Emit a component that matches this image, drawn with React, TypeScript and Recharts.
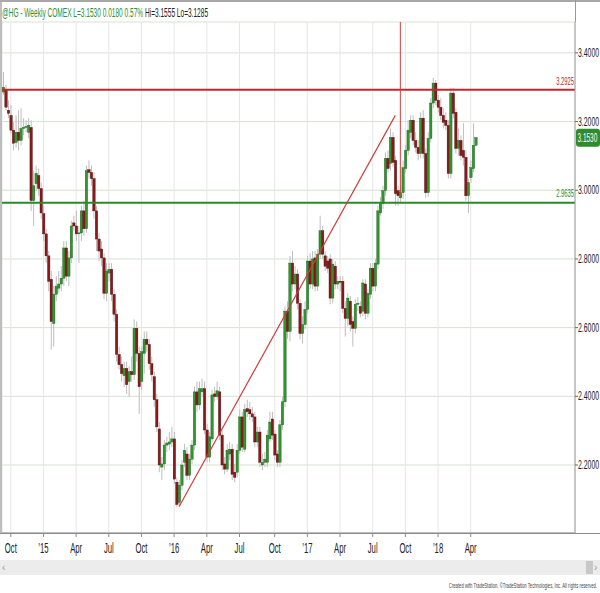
import { ComposedChart, Bar, XAxis, YAxis, CartesianGrid, ReferenceLine } from 'recharts';

// weekly HG candles (oldest first)
const opens = [
  3.286, 3.292, 3.233, 3.218, 3.175, 3.139, 3.169, 3.145, 3.18, 3.183, 3.169, 3.183, 2.97, 3.019, 3.043, 3.005, 2.932, 2.873, 2.809, 2.741,
  2.612, 2.697, 2.715, 2.727, 2.744, 2.832, 2.75, 2.803, 2.905, 2.896, 2.873, 2.876, 2.94, 2.888, 3.06, 3.052, 3.034, 2.94, 2.858, 2.829,
  2.803, 2.7, 2.759, 2.77, 2.697, 2.639, 2.522, 2.492, 2.46, 2.481, 2.443, 2.472, 2.463, 2.598, 2.525, 2.443, 2.525, 2.566, 2.551, 2.495,
  2.457, 2.39, 2.305, 2.194, 2.203, 2.258, 2.261, 2.267, 2.276, 2.15, 2.091, 2.141, 2.208, 2.232, 2.17, 2.217, 2.258, 2.413, 2.375, 2.413,
  2.422, 2.302, 2.223, 2.276, 2.407, 2.399, 2.413, 2.287, 2.203, 2.188, 2.232, 2.246, 2.179, 2.179, 2.243, 2.34, 2.246, 2.364, 2.361, 2.349,
  2.34, 2.267, 2.296, 2.2, 2.208, 2.208, 2.276, 2.334, 2.29, 2.232, 2.208, 2.317, 2.384, 2.648, 2.589, 2.788, 2.727, 2.756, 2.671, 2.583,
  2.609, 2.653, 2.794, 2.727, 2.803, 2.721, 2.814, 2.882, 2.809, 2.794, 2.8, 2.686, 2.779, 2.727, 2.735, 2.735, 2.656, 2.627, 2.677, 2.618,
  2.598, 2.668, 2.662, 2.648, 2.727, 2.642, 2.697, 2.773, 2.721, 2.785, 2.934, 2.961, 2.999, 3.093, 3.078, 3.154, 3.087, 2.999, 2.978, 2.993,
  3.063, 3.116, 3.169, 3.204, 3.145, 3.125, 3.107, 3.21, 3.107, 2.993, 3.151, 3.254, 3.312, 3.262, 3.242, 3.218, 3.204, 3.189, 3.049, 3.283,
  3.227, 3.122, 3.145, 3.116, 3.096, 2.984, 3.037, 3.063, 3.131,
];
const highs = [
  3.344, 3.306, 3.262, 3.248, 3.198, 3.218, 3.233, 3.239, 3.21, 3.204, 3.21, 3.204, 3.057, 3.072, 3.063, 3.022, 2.955, 2.888, 2.823, 2.765,
  2.721, 2.75, 2.765, 2.779, 2.852, 2.852, 2.823, 2.911, 2.926, 2.94, 2.896, 2.955, 2.97, 3.072, 3.087, 3.072, 3.052, 2.955, 2.876, 2.852,
  2.817, 2.788, 2.788, 2.788, 2.712, 2.653, 2.545, 2.516, 2.501, 2.501, 2.487, 2.516, 2.624, 2.618, 2.545, 2.545, 2.589, 2.589, 2.566, 2.516,
  2.472, 2.407, 2.325, 2.223, 2.273, 2.282, 2.296, 2.311, 2.296, 2.164, 2.156, 2.214, 2.261, 2.252, 2.232, 2.273, 2.428, 2.443, 2.443, 2.451,
  2.443, 2.32, 2.296, 2.419, 2.428, 2.443, 2.428, 2.302, 2.223, 2.261, 2.267, 2.261, 2.203, 2.261, 2.361, 2.355, 2.378, 2.39, 2.384, 2.369,
  2.355, 2.311, 2.311, 2.232, 2.238, 2.302, 2.355, 2.355, 2.302, 2.243, 2.331, 2.399, 2.662, 2.677, 2.809, 2.823, 2.779, 2.77, 2.683, 2.633,
  2.677, 2.809, 2.817, 2.823, 2.823, 2.829, 2.926, 2.896, 2.823, 2.809, 2.814, 2.8, 2.794, 2.75, 2.75, 2.75, 2.677, 2.7, 2.692, 2.633,
  2.683, 2.689, 2.677, 2.741, 2.741, 2.712, 2.788, 2.788, 2.8, 2.955, 2.981, 3.013, 3.11, 3.116, 3.18, 3.169, 3.101, 3.013, 3.013, 3.087,
  3.131, 3.204, 3.218, 3.218, 3.169, 3.145, 3.227, 3.233, 3.122, 3.169, 3.268, 3.327, 3.321, 3.277, 3.268, 3.239, 3.227, 3.204, 3.298, 3.298,
  3.239, 3.18, 3.16, 3.195, 3.116, 3.034, 3.087, 3.195, 3.156,
];
const lows = [
  3.277, 3.233, 3.21, 3.166, 3.116, 3.125, 3.116, 3.131, 3.16, 3.169, 3.151, 2.94, 2.896, 2.999, 2.984, 2.917, 2.852, 2.788, 2.706, 2.536,
  2.545, 2.677, 2.7, 2.706, 2.721, 2.735, 2.721, 2.788, 2.882, 2.852, 2.788, 2.852, 2.867, 2.876, 3.034, 3.013, 2.917, 2.823, 2.794, 2.779,
  2.683, 2.677, 2.735, 2.677, 2.618, 2.501, 2.478, 2.443, 2.428, 2.407, 2.399, 2.443, 2.448, 2.501, 2.349, 2.419, 2.466, 2.53, 2.478, 2.443,
  2.369, 2.296, 2.179, 2.156, 2.185, 2.238, 2.243, 2.252, 2.144, 2.077, 2.077, 2.126, 2.194, 2.156, 2.156, 2.203, 2.243, 2.355, 2.361, 2.399,
  2.29, 2.208, 2.208, 2.267, 2.384, 2.39, 2.273, 2.185, 2.173, 2.179, 2.214, 2.156, 2.15, 2.164, 2.232, 2.238, 2.238, 2.34, 2.331, 2.325,
  2.252, 2.252, 2.194, 2.185, 2.194, 2.194, 2.267, 2.273, 2.214, 2.194, 2.194, 2.302, 2.369, 2.568, 2.56, 2.706, 2.712, 2.653, 2.566, 2.554,
  2.595, 2.642, 2.712, 2.712, 2.706, 2.706, 2.8, 2.8, 2.765, 2.759, 2.668, 2.671, 2.712, 2.712, 2.706, 2.642, 2.574, 2.604, 2.589, 2.545,
  2.583, 2.648, 2.63, 2.633, 2.624, 2.63, 2.683, 2.706, 2.706, 2.77, 2.926, 2.946, 2.984, 3.052, 3.057, 3.069, 2.955, 2.955, 2.964, 2.975,
  3.052, 3.101, 3.151, 3.131, 3.11, 3.087, 3.093, 3.093, 2.978, 2.981, 3.139, 3.239, 3.248, 3.227, 3.204, 3.18, 3.175, 3.034, 3.034, 3.21,
  3.107, 3.101, 3.087, 3.072, 2.97, 2.934, 3.022, 3.052, 3.129,
];
const closes = [
  3.3, 3.242, 3.224, 3.175, 3.137, 3.169, 3.145, 3.18, 3.183, 3.186, 3.189, 2.97, 3.013, 3.049, 3.005, 2.934, 2.873, 2.809, 2.735, 2.618,
  2.697, 2.721, 2.727, 2.744, 2.832, 2.75, 2.803, 2.896, 2.896, 2.873, 2.876, 2.94, 2.888, 3.057, 3.052, 3.034, 2.94, 2.858, 2.823, 2.803,
  2.7, 2.765, 2.77, 2.697, 2.639, 2.522, 2.492, 2.466, 2.481, 2.434, 2.472, 2.463, 2.598, 2.525, 2.428, 2.53, 2.566, 2.551, 2.495, 2.463,
  2.39, 2.311, 2.2, 2.203, 2.258, 2.264, 2.267, 2.276, 2.159, 2.085, 2.141, 2.2, 2.243, 2.17, 2.217, 2.258, 2.413, 2.375, 2.422, 2.422,
  2.302, 2.223, 2.282, 2.404, 2.399, 2.416, 2.287, 2.2, 2.188, 2.243, 2.246, 2.173, 2.164, 2.243, 2.34, 2.252, 2.361, 2.355, 2.349, 2.34,
  2.267, 2.296, 2.208, 2.208, 2.217, 2.287, 2.325, 2.287, 2.229, 2.208, 2.317, 2.384, 2.648, 2.589, 2.788, 2.727, 2.756, 2.671, 2.583, 2.609,
  2.653, 2.794, 2.727, 2.8, 2.721, 2.814, 2.882, 2.814, 2.779, 2.773, 2.686, 2.785, 2.727, 2.735, 2.732, 2.656, 2.627, 2.686, 2.609, 2.598,
  2.668, 2.671, 2.642, 2.73, 2.642, 2.7, 2.773, 2.721, 2.788, 2.94, 2.961, 2.999, 3.093, 3.063, 3.154, 3.081, 2.99, 2.984, 2.993, 3.066,
  3.116, 3.175, 3.204, 3.145, 3.125, 3.107, 3.21, 3.107, 2.993, 3.151, 3.254, 3.312, 3.262, 3.242, 3.218, 3.198, 3.189, 3.049, 3.283, 3.224,
  3.122, 3.145, 3.101, 3.096, 2.984, 3.022, 3.066, 3.131, 3.153,
];

const tickWeeks = [3, 16, 29, 42, 55, 68, 81, 94, 108, 121, 134, 147, 160, 173, 186];
const tickLabels = ['Oct', '’15', 'Apr', 'Jul', 'Oct', '’16', 'Apr', 'Jul', 'Oct', '’17', 'Apr', 'Jul', 'Oct', '’18', 'Apr'];
const priceTicks = [2.2, 2.4, 2.6, 2.8, 3.0, 3.2, 3.4];

const resistance = 3.2925;
const support = 2.9635;
const lastClose = 3.153;
const trendLine = [{ x: 70, y: 2.079 }, { x: 156, y: 3.218 }];
const marker = [{ x: 158, y: 3.49 }, { x: 158, y: 2.99 }];

const SLOTS = 228; // weeks incl. empty space to the right of the last bar
const FONT = 'Liberation Sans, Arial, sans-serif';

const data = Array.from({ length: SLOTS }, (_, i) =>
  i < closes.length
    ? { i, range: [lows[i], highs[i]], o: opens[i], h: highs[i], l: lows[i], c: closes[i] }
    : { i },
);

// squeeze text horizontally around its anchor point
const squeeze = (x: number, s: number) => `translate(${x} 0) scale(${s} 1) translate(${-x} 0)`;

function Candle(props: any) {
  const { x, y, width, height, payload } = props;
  if (!payload || payload.c == null || height == null) return <g />;
  const top = height >= 0 ? y : y + height;
  const hgt = Math.abs(height);
  const { o, h, l, c } = payload;
  const ppu = hgt / (h - l || 1);
  const cx = x + width / 2;
  const yo = top + (h - o) * ppu;
  const yc = top + (h - c) * ppu;
  const up = c >= o;
  return (
    <g>
      <line x1={cx} x2={cx} y1={top} y2={top + hgt} stroke="#bdbdbd" strokeWidth={1} />
      <rect
        x={cx - 1.2}
        y={Math.min(yo, yc)}
        width={2.4}
        height={Math.max(Math.abs(yc - yo), 1)}
        fill={up ? '#2f962f' : '#8a1a1a'}
        stroke={up ? '#1e5c1e' : '#4a0c0c'}
        strokeWidth={0.4}
      />
    </g>
  );
}

function DateTick({ x, y, payload }: any) {
  const label = tickLabels[tickWeeks.indexOf(payload.value)];
  return (
    <text x={x} y={y + 14} textAnchor="middle" fontSize={14} fontFamily={FONT} fill="#222" transform={squeeze(x, 0.55)}>
      {label}
    </text>
  );
}

function PriceTick({ x, y, payload }: any) {
  return (
    <text x={x} y={y + 4} fontSize={12} fontFamily={FONT} fill="#222" transform={squeeze(x, 0.575)}>
      {payload.value.toFixed(4)}
    </text>
  );
}

const levelLabel = (value: number, color: string, dy: number) => ({ viewBox }: any) => {
  const right = viewBox.x + viewBox.width - 1;
  return (
    <text x={right} y={viewBox.y + dy} textAnchor="end" fontSize={11} fontFamily={FONT} fill={color} transform={squeeze(right, 0.53)}>
      {value.toFixed(4)}
    </text>
  );
};

const PriceTag = ({ viewBox }: any) => {
  const left = viewBox.x + viewBox.width + 1;
  return (
    <g>
      <rect x={left} y={viewBox.y - 9} width={24} height={18} rx={3} fill="#2e8b2e" />
      <text x={left + 1.5} y={viewBox.y + 4} fontSize={12} fontFamily={FONT} fill="#fff" transform={squeeze(left + 1.5, 0.54)}>
        {lastClose.toFixed(4)}
      </text>
    </g>
  );
};

export default function App() {
  return (
    <div style={{ position: 'relative', width: 600, height: 593, background: '#fff', overflow: 'hidden' }}>
      <style>{'body{margin:0}'}</style>
      <ComposedChart width={600} height={560} data={data} margin={{ top: 22, right: 0, bottom: 0, left: 2 }} barCategoryGap={0}>
        <CartesianGrid vertical={false} stroke="#d3e3d3" />
        <CartesianGrid horizontal={false} stroke="#e6e6e6" />
        <XAxis
          dataKey="i"
          type="category"
          ticks={tickWeeks}
          interval={0}
          height={27}
          tickSize={4}
          tickMargin={2}
          axisLine={{ stroke: '#8c8c8c' }}
          tickLine={{ stroke: '#8c8c8c' }}
          tick={<DateTick />}
        />
        <YAxis
          orientation="right"
          type="number"
          width={25}
          domain={[2.002, 3.49]}
          allowDataOverflow
          ticks={priceTicks}
          tickSize={3}
          tickMargin={0}
          axisLine={{ stroke: '#9a9a9a' }}
          tickLine={{ stroke: '#666' }}
          tick={<PriceTick />}
        />
        <ReferenceLine y={resistance} stroke="#c0282d" strokeWidth={2} label={levelLabel(resistance, '#c0282d', -5)} />
        <ReferenceLine y={support} stroke="#2a8a2a" strokeWidth={2} label={levelLabel(support, '#2a8a2a', -6)} />
        <Bar dataKey="range" shape={<Candle />} isAnimationActive={false} />
        <ReferenceLine segment={trendLine} stroke="#d23c3c" strokeWidth={1.2} />
        <ReferenceLine segment={marker} stroke="#d23c3c" strokeWidth={1} />
        <ReferenceLine y={lastClose} stroke="none" label={<PriceTag />} />
      </ComposedChart>
      <svg width={600} height={593} style={{ position: 'absolute', left: 0, top: 0, pointerEvents: 'none' }}>
        <line x1={0} x2={600} y1={1} y2={1} stroke="#a8a8a8" strokeWidth={2} />
        <line x1={1} x2={1} y1={0} y2={533} stroke="#a8a8a8" strokeWidth={1.5} />
        <line x1={575.5} x2={575.5} y1={0} y2={22} stroke="#9a9a9a" />
        <line x1={0} x2={600} y1={533.5} y2={533.5} stroke="#8c8c8c" />
        <text x={2} y={17} fontSize={13} fontFamily={FONT} fill="#2f8f2f" transform={squeeze(2, 0.505)}>
          <tspan>@HG - Weekly COMEX L=3.1530 0.0180 0.57%</tspan>
          <tspan fill="#222"> Hi=3.1555 Lo=3.1285</tspan>
        </text>
        <rect x={0} y={560} width={600} height={15} fill="#ececec" />
        <rect x={586} y={561} width={7} height={13} fill="#c8c8c8" />
        <text x={2} y={571} fontSize={10} fontFamily={FONT} fill="#999">‹</text>
        <text x={594} y={571} fontSize={10} fontFamily={FONT} fill="#999">›</text>
        <text x={597} y={588} textAnchor="end" fontSize={7} fontFamily={FONT} fill="#444" transform={squeeze(597, 0.6)}>
          Created with TradeStation. ©TradeStation Technologies, Inc. All rights reserved.
        </text>
      </svg>
    </div>
  );
}
